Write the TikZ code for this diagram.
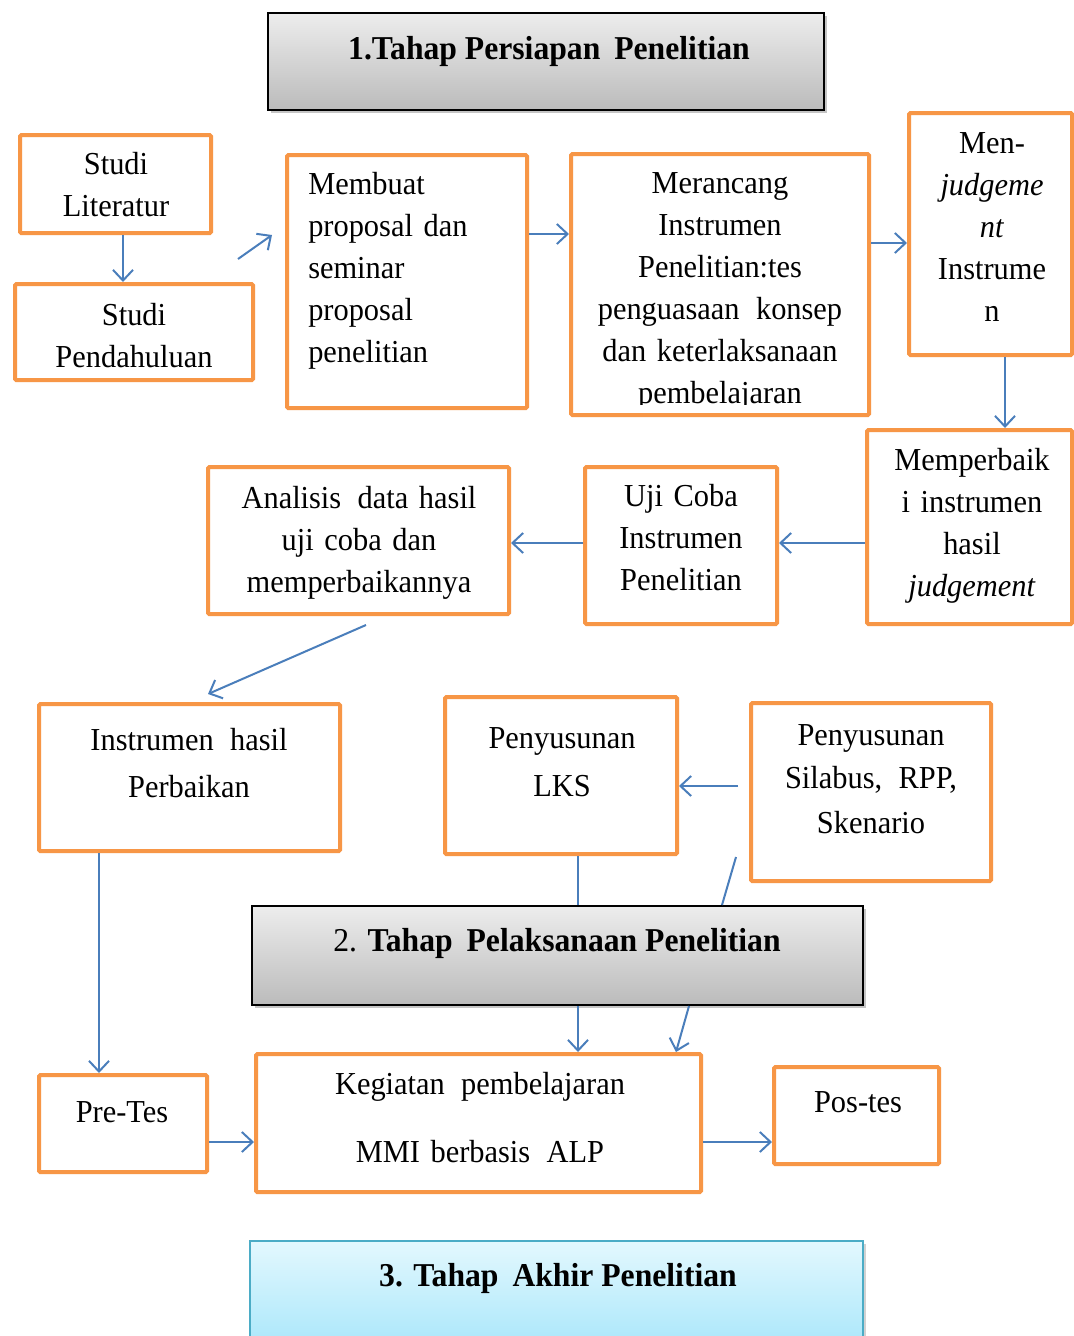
\documentclass[tikz,border=0pt]{standalone}
\usepackage{fontspec}
\setmainfont[FakeStretch=0.95]{Liberation Serif}
\usetikzlibrary{arrows.meta,fit,shadows}
\definecolor{obrd}{HTML}{F79646}
\definecolor{barr}{HTML}{4A7EBB}
\definecolor{gtop}{HTML}{EDEDED}
\definecolor{gbot}{HTML}{BBBBBB}
\definecolor{ctop}{HTML}{E3F8FE}
\definecolor{cbot}{HTML}{A3E5FA}
\definecolor{cbrd}{HTML}{4BACC6}
\newcommand{\dsp}{ \hspace{0.18em}}
\begin{document}
\begin{tikzpicture}[x=0.75pt,y=-0.75pt,
  obox/.style={draw=obrd,line width=3pt,inner sep=0pt,rounded corners=1pt},
  hbox/.style={draw=black,line width=1.5pt,inner sep=0pt,top color=gtop,bottom color=gbot,
    drop shadow={shadow xshift=2pt,shadow yshift=-2pt,opacity=0.45,fill=gray}},
  cbox/.style={draw=cbrd,line width=1.2pt,inner sep=0pt,top color=ctop,bottom color=cbot,
    drop shadow={shadow xshift=2pt,shadow yshift=-2pt,opacity=0.35,fill=gray}},
  txt/.style={inner sep=0pt,font=\fontsize{24}{31.5}\selectfont,text width=300pt,align=center,anchor=base},
  ltxt/.style={txt,align=left,anchor=base west},
  htxt/.style={inner sep=0pt,font=\fontsize{25}{30}\selectfont\bfseries,anchor=base},
  arr/.style={draw=barr,line width=1.5pt,-{Straight Barb[length=8pt,width=15pt,line width=1.5pt]}},
  lin/.style={draw=barr,line width=1.5pt}]
\clip (0,0) rectangle (1074,1336);
\fill[white] (0,0) rectangle (1074,1336);

% headers
\node[hbox,fit={(268,13)(824,110)}] (h1) {};
\node[htxt] (h1t) at (549,59) {1.Tahap Persiapan\dsp Penelitian};

% row 1
\node[obox,fit={(20,135)(211,233)}] (lit) {};
\node[txt] (litt) at (116,174) {Studi\\Literatur};
\node[obox,fit={(15,284)(253,380)}] (pend) {};
\node[txt] (pendt) at (134,325) {Studi\\Pendahuluan};
\node[obox,fit={(287,155)(527,408)}] (memb) {};
\node[ltxt] (membt) at (308,194) {Membuat\\proposal dan\\seminar\\proposal\\penelitian};
\node[obox,fit={(571,154)(869,415)}] (meran) {};
\begin{scope}
\clip (574,157) rectangle (866,404);
\node[txt] (merant) at (720,193) {Merancang\\Instrumen\\Penelitian:tes\\penguasaan\dsp konsep\\dan keterlaksanaan\\pembelajaran};
\end{scope}
\node[obox,fit={(909,113)(1072,355)}] (judg) {};
\node[txt] (judgt) at (992,153) {Men-\\\textit{judgeme}\\\textit{nt}\\Instrume\\n};

% row 2
\node[obox,fit={(867,430)(1072,624)}] (perb) {};
\node[txt] (perbt) at (972,470) {Memperbaik\\i instrumen\\hasil\\\textit{judgement}};
\node[obox,fit={(585,467)(777,624)}] (uji) {};
\node[txt] (ujit) at (681,506) {Uji Coba\\Instrumen\\Penelitian};
\node[obox,fit={(208,467)(509,614)}] (anal) {};
\node[txt] (analt) at (359,508) {Analisis\dsp data hasil\\uji coba dan\\memperbaikannya};

% row 3
\node[obox,fit={(39,704)(340,851)}] (inst) {};
\node[txt] (instt) at (189,750) {Instrumen\dsp hasil\\[4pt]Perbaikan};
\node[obox,fit={(445,697)(677,854)}] (lks) {};
\node[txt] (lkst) at (562,748) {Penyusunan\\[4.5pt]LKS};
\node[obox,fit={(751,703)(991,881)}] (sil) {};
\node[txt] (silt) at (871,745) {Penyusunan\\[1pt]Silabus,\dsp RPP,\\[2pt]Skenario};

\node[hbox,fit={(252,906)(863,1005)}] (h2) {};
\node[htxt] (h2t) at (557,951) {{\mdseries 2.} Tahap\dsp Pelaksanaan Penelitian};

% row 4
\node[obox,fit={(39,1075)(207,1172)}] (pre) {};
\node[txt] (pret) at (122,1122) {Pre-Tes};
\node[obox,fit={(256,1054)(701,1192)}] (keg) {};
\node[txt] (kegt) at (480,1094) {Kegiatan\dsp pembelajaran\\[20pt]MMI berbasis\dsp ALP};
\node[obox,fit={(774,1067)(939,1164)}] (pos) {};
\node[txt] (post) at (858,1112) {Pos-tes};

\node[cbox,fit={(250,1241)(863,1360)}] (h3) {};
\node[htxt] (h3t) at (558,1286) {3. Tahap\dsp Akhir Penelitian};

% connectors
\coordinate (d1) at (238,259);
\coordinate (d2) at (272,235);
\coordinate (f1) at (366,625);
\coordinate (f2) at (208,694);
\coordinate (s9) at (738,786);
\coordinate (e1) at (736,857);

\draw[arr] (lit.south -| 123,0) -- (pend.north -| 123,0);
\draw[arr] (d1) -- (d2);
\draw[arr] (memb.east |- 0,234) -- (meran.west |- 0,234);
\draw[arr] (meran.east |- 0,243) -- (judg.west |- 0,243);
\draw[arr] (judg.south -| 1005,0) -- (perb.north -| 1005,0);
\draw[arr] (perb.west |- 0,543) -- (uji.east |- 0,543);
\draw[arr] (uji.west |- 0,543) -- (anal.east |- 0,543);
\draw[arr] (f1) -- (f2);
\draw[arr] (s9) -- (lks.east |- s9);
\draw[lin] (lks.south -| 578,0) -- (h2.north -| 578,0);
\draw[arr] (h2.south -| 578,0) -- (keg.north -| 578,0);
\draw[lin] (e1) -- (h2.north -| 722,0);
\draw[arr] (h2.south -| 689,0) -- (keg.north -| 676,0);
\draw[arr] (inst.south -| 99,0) -- (pre.north -| 99,0);
\draw[arr] (pre.east |- 0,1142) -- (keg.west |- 0,1142);
\draw[arr] (keg.east |- 0,1142) -- (pos.west |- 0,1142);
\end{tikzpicture}
\end{document}
